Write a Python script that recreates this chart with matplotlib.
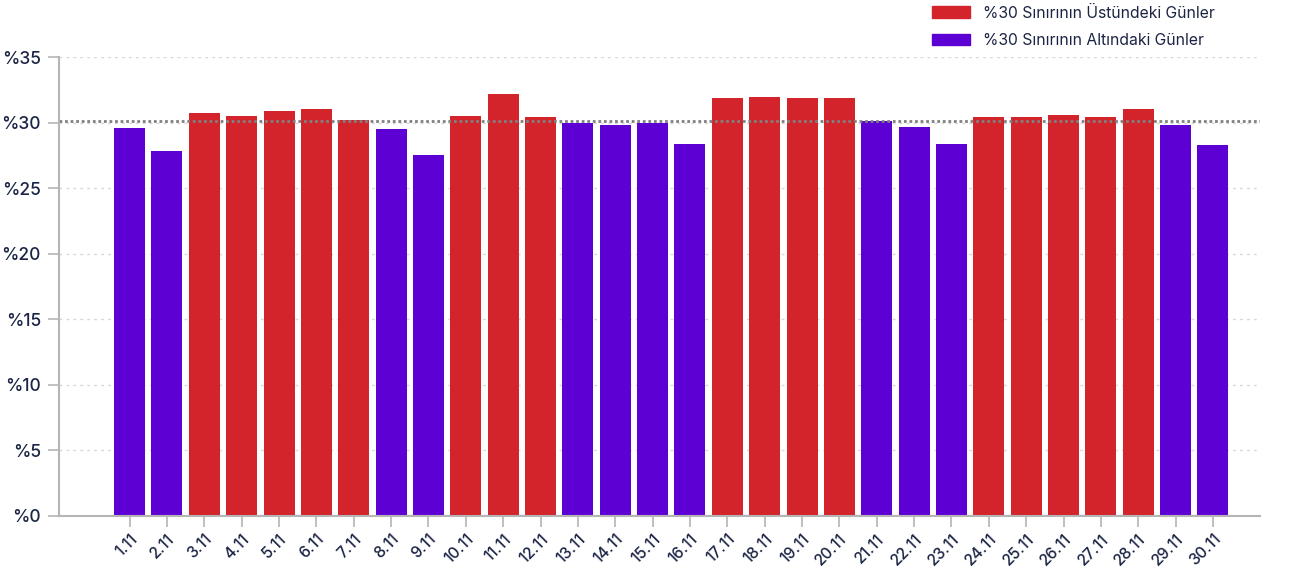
import numpy as np
import matplotlib.pyplot as plt
from matplotlib.patches import Patch

days = ['1.11', '2.11', '3.11', '4.11', '5.11', '6.11', '7.11', '8.11', '9.11', '10.11',
        '11.11', '12.11', '13.11', '14.11', '15.11', '16.11', '17.11', '18.11', '19.11', '20.11',
        '21.11', '22.11', '23.11', '24.11', '25.11', '26.11', '27.11', '28.11', '29.11', '30.11']
share = [29.6, 27.8, 30.7, 30.5, 30.9, 31.0, 30.2, 29.5, 27.5, 30.5,
         32.2, 30.4, 29.95, 29.8, 29.95, 28.4, 31.9, 31.95, 31.9, 31.9,
         30.1, 29.7, 28.4, 30.4, 30.4, 30.6, 30.4, 31.0, 29.8, 28.3]
limit = 30.15
yticks = [0, 5, 10, 15, 20, 25, 30, 35]

red = '#d3232b'
purple = '#5d00d3'
navy = '#1b2444'
axis_grey = '#b5b5b5'

plt.rcParams['font.family'] = ['Inter', 'DejaVu Sans']

fig = plt.figure(figsize=(13.06, 5.68), dpi=100)
ax = fig.add_axes([59 / 1306, 1 - 516 / 568, (1260 - 59) / 1306, (516 - 57) / 568])

x = np.arange(len(days))
colors = [red if v > limit else purple for v in share]
ax.bar(x, share, width=0.83, color=colors, zorder=3)

# horizontal grid
for t in yticks[1:]:
    ax.axhline(t, color='#d8d8d8', lw=1, ls=(0, (2, 3)), zorder=1)
ax.axhline(limit, color='#808080', lw=2, ls=(0, (1, 1)), zorder=4)

ax.set_xlim(-1.89, 29 + 1.26)
ax.set_ylim(0, 35)
ax.set_yticks(yticks)
ax.set_yticklabels(['%' + str(t) for t in yticks], fontsize=12.5, color=navy, fontweight='medium')
ax.set_xticks(x)
ax.set_xticklabels(days, rotation=45, ha='right', rotation_mode='anchor',
                   fontsize=11.3, color=navy, fontweight='medium')

for s in ['top', 'right']:
    ax.spines[s].set_visible(False)
for s in ['left', 'bottom']:
    ax.spines[s].set_color(axis_grey)
    ax.spines[s].set_linewidth(1.5)
    ax.spines[s].set_zorder(5)
ax.tick_params(axis='both', color=axis_grey, width=1.2, length=8)
ax.tick_params(axis='y', pad=5)
ax.tick_params(axis='x', pad=3)

handles = [Patch(color=red, label='%30 Sınırının Üstündeki Günler'),
           Patch(color=purple, label='%30 Sınırının Altındaki Günler')]
fig.legend(handles=handles, loc='upper left', bbox_to_anchor=(918 / 1306, 1.015),
           frameon=False, fontsize=11.3, labelcolor=navy,
           handlelength=2.4, handleheight=0.75, handletextpad=0.85, labelspacing=0.8)

fig.savefig('out.png', dpi=100)
